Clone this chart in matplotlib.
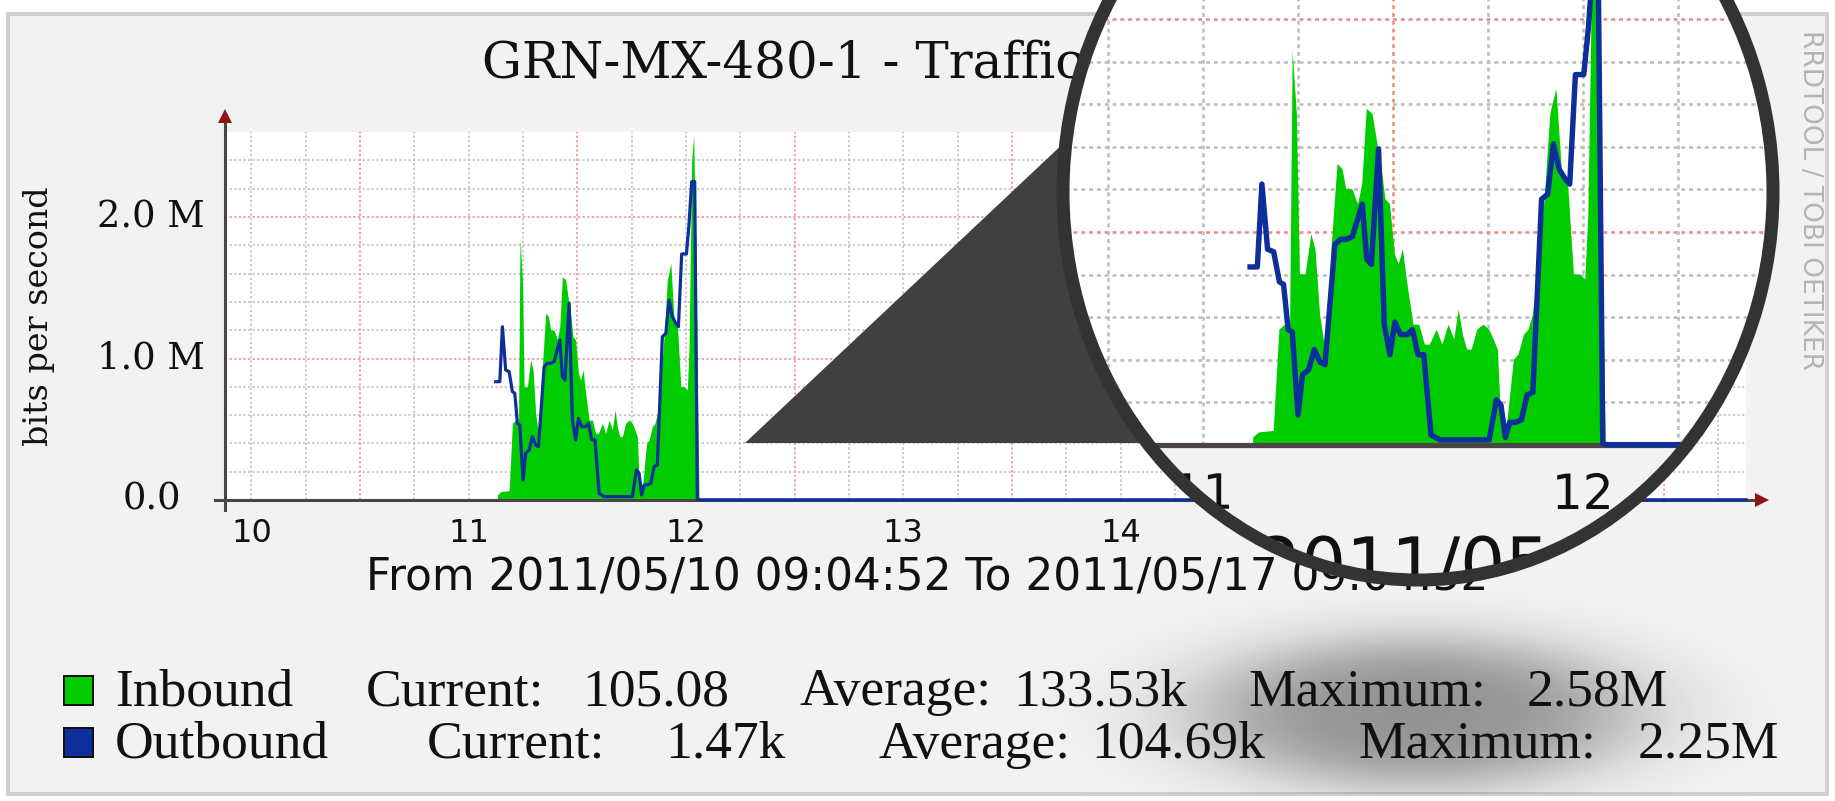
import numpy as np
import matplotlib
matplotlib.use('Agg')
import matplotlib.pyplot as plt
from matplotlib.patches import Rectangle, Ellipse, Polygon, PathPatch
from matplotlib.textpath import TextPath
from matplotlib.font_manager import FontProperties
from matplotlib.transforms import Affine2D

W, H, DPI = 1835, 801, 100

########################
# data  #
########################
# time axis in day-of-month, 2011/05/10 09:04:52 .. 2011/05/17 09:04:52
T_START = 10 + (9 + 4 / 60 + 52 / 3600) / 24
T_END = T_START + 7

# inbound (area), Mbit/s
in_t = [11.632, 11.647, 11.686, 11.701, 11.716, 11.729, 11.736, 11.747, 11.755, 11.770,
        11.785, 11.796, 11.808, 11.824, 11.839, 11.854, 11.867, 11.877, 11.893, 11.908,
        11.919, 11.931, 11.946, 11.959, 11.969, 11.980, 11.992, 12.005, 12.015, 12.026,
        12.038, 12.054, 12.069, 12.084, 12.097, 12.115, 12.130, 12.146, 12.161, 12.173,
        12.184, 12.195, 12.207, 12.222, 12.238, 12.253, 12.265, 12.276, 12.284, 12.296,
        12.307, 12.318, 12.330, 12.345, 12.357, 12.368, 12.384, 12.399, 12.414, 12.430,
        12.445, 12.460, 12.476, 12.491, 12.506, 12.514, 12.526, 12.535, 12.545, 12.552,
        12.560, 17.378]
in_v = [0.035, 0.059, 0.066, 0.542, 0.565, 0.518, 1.849, 1.555, 0.801, 0.801,
        0.989, 0.919, 0.612, 0.424, 0.942, 1.319, 1.296, 1.201, 1.201, 1.131,
        1.225, 1.578, 1.555, 1.413, 1.319, 1.154, 1.131, 0.895, 0.848, 0.919,
        0.754, 0.565, 0.565, 0.471, 0.471, 0.542, 0.471, 0.565, 0.495, 0.636,
        0.518, 0.448, 0.448, 0.542, 0.565, 0.542, 0.495, 0.448, 0.141, 0.024,
        0.212, 0.400, 0.424, 0.518, 0.542, 0.612, 0.848, 1.154, 1.555, 1.673,
        1.272, 1.249, 0.801, 0.801, 0.777, 1.084, 2.400, 2.580, 1.790, 0.848,
        0.0001, 0.0001]

# outbound (line), Mbit/s
out_t = [11.624, 11.643, 11.655, 11.670, 11.686, 11.701, 11.712, 11.724, 11.735, 11.750,
         11.762, 11.778, 11.793, 11.808, 11.821, 11.847, 11.862, 11.877, 11.893, 11.903,
         11.919, 11.931, 11.943, 11.962, 11.977, 11.992, 12.005, 12.020, 12.038, 12.051,
         12.066, 12.081, 12.100, 12.123, 12.253, 12.272, 12.284, 12.296, 12.307, 12.322,
         12.338, 12.353, 12.368, 12.391, 12.407, 12.422, 12.437, 12.453, 12.465, 12.480,
         12.502, 12.514, 12.526, 12.540, 12.552, 12.560, 17.378]
out_v = [0.836, 0.836, 1.225, 0.919, 0.907, 0.766, 0.754, 0.542, 0.530, 0.141,
         0.330, 0.353, 0.448, 0.389, 0.377, 0.942, 0.966, 0.966, 0.978, 1.037,
         1.131, 0.872, 0.848, 1.390, 0.565, 0.424, 0.577, 0.518, 0.518, 0.542,
         0.424, 0.424, 0.047, 0.024, 0.024, 0.212, 0.188, 0.035, 0.106, 0.106,
         0.118, 0.236, 0.247, 1.154, 1.178, 1.413, 1.296, 1.249, 1.225, 1.739,
         1.739, 1.955, 2.250, 2.250, 0.010, 0.0015, 0.0015]

x_days = [10, 11, 12, 13, 14, 15, 16]
y_ticks = [0.0, 1.0, 2.0]
y_labels = ['0.0', '1.0 M', '2.0 M']
YMAX = 2.6

title = 'GRN-MX-480-1 - Traffic'
ylabel = 'bits per second'
period = 'From 2011/05/10 09:04:52 To 2011/05/17 09:04:52'
watermark = 'RRDTOOL / TOBI OETIKER'
legend_names = ['Inbound', 'Outbound']
legend_cells = [['Current:', '105.08', 'Average:', '133.53k', 'Maximum:', '2.58M'],
                ['Current:', '1.47k', 'Average:', '104.69k', 'Maximum:', '2.25M']]

#################
# layout / look #
#################
GREEN = '#00cc00'
BLUE = '#0c2f9c'
GRID = '#bdbdbd'
MGRID = '#ef8a8a'
AXIS = '#4a4444'
ARROW = '#8e1414'
BG = '#f2f2f2'
INK = '#111111'
SERIF, SANS, LEGF = 'DejaVu Serif', 'DejaVu Sans', 'Liberation Serif'
PX = 72 / DPI  # points per pixel

PLOT_L, PLOT_B = 225, 500
DAY_PX, M_PX = 217.3, 141.5

# magnifier lens (ellipse in pixels) and the mapping of the view inside it
CX, CY, RX, RY = 1418, 192, 355, 388
IN_X11, IN_DAY_PX = 1203, 380      # pixel of day 11.5 and px/day inside the lens
IN_B, IN_M_PX = 445, 213           # baseline pixel and px/Mbit inside the lens
MAG = 1.7
IN_LABEL_Y, IN_LABEL_PT = 491, 35
IN_PERIOD_X, IN_PERIOD_Y, IN_PERIOD_PT = 1058, 588, 51

leg_x = [[115, 366, 582, 799, 1013, 1248, 1527],
         [115, 427, 665, 878, 1091, 1358, 1638]]
leg_base = [705, 758]
leg_box = [676, 728]


def px_axes(z):
    a = fig.add_axes([0, 0, 1, 1], zorder=z)
    a.set_xlim(0, W)
    a.set_ylim(H, 0)
    a.axis('off')
    return a


def lens_x(day):
    return IN_X11 + (day - 11.5) * IN_DAY_PX


def path_text(a, x, y, s, pt, ha='left', va='baseline'):
    # text outline placed in pixel coords, so it can be clipped to the lens
    tp = TextPath((0, 0), s, size=pt / PX, prop=FontProperties(family=SANS))
    ext = tp.get_extents()
    dx = {'left': 0, 'center': -(ext.x0 + ext.x1) / 2}[ha]
    dy = {'baseline': 0, 'center': -(ext.y0 + ext.y1) / 2}[va]
    tr = Affine2D().translate(dx, dy).scale(1, -1).translate(x, y) + ring.transData
    return a.add_patch(PathPatch(tp, facecolor=INK, edgecolor='none', zorder=5, transform=tr))


def draw_graph(a, s, lensed):
    arts = []
    six_h = np.arange(np.ceil(T_START * 4) / 4, T_END, 0.25)
    major = np.isclose(six_h, np.round(six_h))
    dash = [(0, (1.5, 1.5))]
    arts.append(a.vlines(six_h[~major], 0, YMAX, colors=GRID, lw=1.1 * s, linestyles=dash, zorder=1))
    arts.append(a.vlines(six_h[major], 0, YMAX, colors=MGRID, lw=1.1 * s, linestyles=dash, zorder=1))
    lev = np.arange(0.2, YMAX - 0.1, 0.2)
    majory = np.isclose(lev, np.round(lev))
    arts.append(a.hlines(lev[~majory], T_START, T_END, colors=GRID, lw=1.1 * s, linestyles=dash, zorder=1))
    arts.append(a.hlines(lev[majory], T_START, T_END, colors=MGRID, lw=1.1 * s, linestyles=dash, zorder=1))
    arts.append(a.fill_between(in_t, in_v, 0, color=GREEN, lw=0, zorder=2))
    kw = dict(clip_on=lensed)
    arts += a.plot([T_START - 10 / DAY_PX, T_END + 14 / DAY_PX], [0, 0], color=AXIS, lw=2.2 * s,
                   zorder=3, **kw)
    arts += a.plot([T_END + 16 / DAY_PX], [0], marker='>', ms=10 * s, color=ARROW, mew=0,
                   zorder=3, **kw)
    arts += a.plot([T_START, T_START], [-10 / M_PX, YMAX + 12 / M_PX], color=AXIS, lw=2.2 * s,
                   zorder=3, **kw)
    arts += a.plot([T_START], [YMAX + 16 / M_PX], marker='^', ms=10 * s, color=ARROW, mew=0,
                   zorder=3, **kw)
    arts += a.plot(out_t, out_v, color=BLUE, lw=2.3 * s, zorder=4, **kw)
    return arts


fig = plt.figure(figsize=(W / DPI, H / DPI), dpi=DPI)
fig.patch.set_facecolor('white')

# background, frame, shadow and all outside texts
bg = px_axes(0)
frame = Rectangle((8, 14), 1819, 780, facecolor=BG, edgecolor='#cfcfcf', lw=4 * PX, zorder=0)
bg.add_patch(frame)
yy, xx = np.mgrid[0:240, 0:800]
rr = np.hypot((xx - 400) / 290.0, (yy - 120) / 100.0)
shadow = np.zeros((240, 800, 4))
shadow[..., 3] = 0.40 / (1 + np.exp((rr - 0.70) / 0.15))
im = bg.imshow(shadow, extent=(1416 - 400, 1416 + 400, 712 + 120, 712 - 120),
               aspect='auto', interpolation='bilinear', zorder=1)
im.set_clip_path(frame)
bg.set_xlim(0, W)
bg.set_ylim(H, 0)

bg.text(482, 78, title, fontsize=36, family=SERIF, color=INK, va='baseline', zorder=3)
bg.text(39, 316, ylabel, fontsize=24, family=SERIF, rotation=90, ha='center', va='center',
        color=INK, zorder=3)
bg.text(366, 591, period, fontsize=31.5, family=SANS, va='baseline', color=INK, zorder=3)
bg.text(1810, 30, watermark, fontsize=19, family=SANS, rotation=270, ha='center', va='top',
        color='#b4b4b4', zorder=3)
for i, (name, col) in enumerate(zip(legend_names, [GREEN, BLUE])):
    bg.add_patch(Rectangle((64, leg_box[i]), 29, 29, facecolor=col, edgecolor=INK,
                           lw=2 * PX, zorder=3))
    for x, s in zip(leg_x[i], [name] + legend_cells[i]):
        bg.text(x, leg_base[i], s, fontsize=38.5, family=LEGF, va='baseline', color=INK,
                zorder=3)

# main graph
ax = fig.add_axes([PLOT_L / W, (H - PLOT_B) / H, 7 * DAY_PX / W, YMAX * M_PX / H], zorder=1)
ax.set_xlim(T_START, T_END)
ax.set_ylim(0, YMAX)
for sp in ax.spines.values():
    sp.set_visible(False)
ax.set_facecolor('white')
draw_graph(ax, 1.0, False)
ax.set_xticks([d + 0.5 for d in x_days], [str(d) for d in x_days], fontsize=23, family=SANS)
ax.tick_params(axis='x', length=0, pad=13, colors=INK)
ax.set_yticks([])
for v, lab, right in zip(y_ticks, y_labels, [181, 205, 205]):
    ax.text((right - PLOT_L) / (7 * DAY_PX), v, lab, transform=ax.get_yaxis_transform(),
            ha='right', va='center', fontsize=26.5, family=SERIF, color=INK)

# pointer triangle
tri = px_axes(2)
tri.add_patch(Polygon([(745, 443), (1067, 140), (1260, 443)], closed=True,
                      facecolor='#404040', edgecolor='none'))

# lens content: the same graph, magnified, clipped to the lens
ring = px_axes(4)
inner = fig.add_axes([0, 0, 1, 1], zorder=3)
inner.axis('off')
lens = Ellipse((CX, CY), 2 * RX, 2 * RY, transform=ring.transData)
inner.add_patch(Ellipse((CX, CY), 2 * RX, 2 * RY, transform=ring.transData, facecolor=BG,
                        edgecolor='none', zorder=0))
arts = [inner.add_patch(Rectangle((T_START, 0), 7, YMAX, facecolor='white',
                                  edgecolor='none', zorder=0.5))]
arts += draw_graph(inner, MAG, True)
for d in x_days:
    arts.append(path_text(inner, lens_x(d + 0.5), IN_LABEL_Y, str(d), IN_LABEL_PT,
                          ha='center', va='center'))
arts.append(path_text(inner, IN_PERIOD_X, IN_PERIOD_Y, period, IN_PERIOD_PT))
for a in arts:
    a.set_clip_path(lens)
inner.set_xlim(11.5 - IN_X11 / IN_DAY_PX, 11.5 + (W - IN_X11) / IN_DAY_PX)
inner.set_ylim((IN_B - H) / IN_M_PX, IN_B / IN_M_PX)

ring.add_patch(Ellipse((CX, CY), 2 * RX, 2 * RY, fill=False, edgecolor='#333333', lw=13 * PX,
                       zorder=5))

fig.savefig('out.png', dpi=DPI, facecolor='white')
